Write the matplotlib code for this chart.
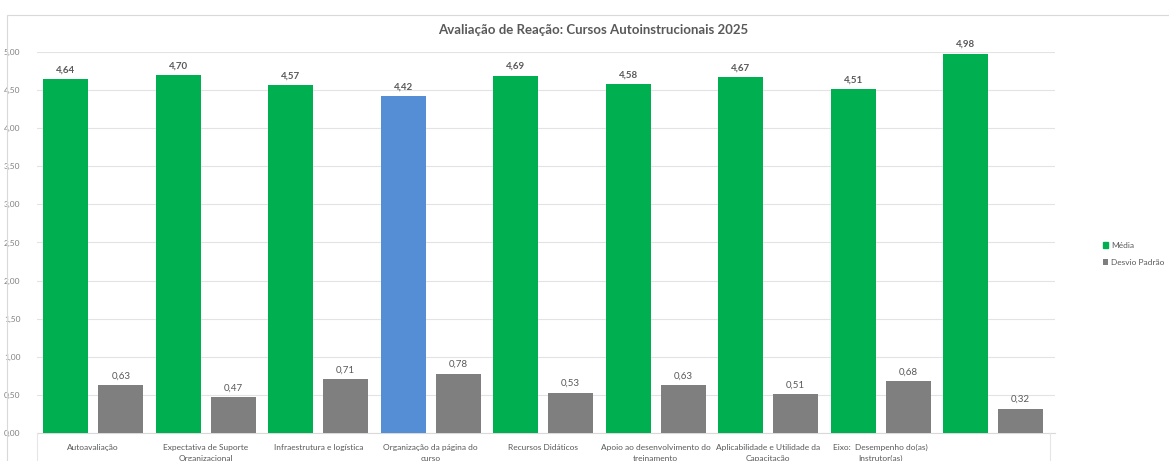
import numpy as np
import matplotlib
matplotlib.use("Agg")
import matplotlib.pyplot as plt
from matplotlib.patches import Rectangle

plt.rcParams['font.family'] = ['Lato', 'DejaVu Sans']

# dados
categorias = ["Autoavaliação", "Expectativa de Suporte\nOrganizacional",
              "Infraestrutura e logística", "Organização da página do\ncurso",
              "Recursos Didáticos", "Apoio ao desenvolvimento do\ntreinamento",
              "Aplicabilidade e Utilidade da\nCapacitação",
              "Eixo:  Desempenho do(as)\nInstrutor(as)", ""]
media = [4.64, 4.70, 4.57, 4.42, 4.69, 4.58, 4.67, 4.51, 4.98]
desvio = [0.63, 0.47, 0.71, 0.78, 0.53, 0.63, 0.51, 0.68, 0.32]
destaque = 3  # barra azul

verde = "#00B050"
cinza = "#7F7F7F"
azul = "#558ED5"
texto = "#595959"

fig = plt.figure(figsize=(11.69, 4.61), dpi=100)
ax = fig.add_axes([37/1169, 28/461, (1055-37)/1169, (433-52)/461])

x = np.arange(len(media))
w = 0.4
cores = [azul if i == destaque else verde for i in range(len(media))]
b1 = ax.bar(x - 0.245, media, w, color=cores, label="Média", zorder=3)
b2 = ax.bar(x + 0.245, desvio, w, color=cinza, label="Desvio Padrão", zorder=3)

fmt = lambda v: f"{v:.2f}".replace(".", ",")
for r, v in zip(b1, media):
    ax.text(r.get_x() + r.get_width()/2, v + 0.06, fmt(v), ha="center", va="bottom",
            fontsize=7, fontweight="bold", color=texto, clip_on=False)
for r, v in zip(b2, desvio):
    ax.text(r.get_x() + r.get_width()/2, v + 0.06, fmt(v), ha="center", va="bottom",
            fontsize=7, color=texto, clip_on=False)

ax.set_xlim(-0.5, 8.55)
ax.set_ylim(0, 5.0)
ticks = np.arange(0, 5.01, 0.5)
ax.set_yticks(ticks)
ax.set_yticklabels([fmt(v) for v in ticks], fontsize=6, color="#808080")
ax.set_xticks(x)
ax.set_xticklabels(categorias, fontsize=6, color=texto, linespacing=1.6)
ax.tick_params(axis="x", length=0, pad=8)
ax.tick_params(axis="y", length=0, pad=12)
ax.grid(axis="y", color="#E3E3E3", lw=0.8, zorder=0)
for s in ["top", "right", "left"]:
    ax.spines[s].set_visible(False)
ax.spines["bottom"].set_color("#D9D9D9")

# linhas verticais do eixo de categorias
for xp in [37, 1050]:
    fig.add_artist(plt.Line2D([xp/1169, xp/1169], [0, 28/461], color="#E6E6E6", lw=0.8))

fig.text(593/1169, 1 - 30/461, "Avaliação de Reação: Cursos Autoinstrucionais 2025",
         ha="center", va="center", fontsize=9.5, fontweight="bold", color=texto)

fig.legend(handles=[b1[0], b2[0]], labels=["Média", "Desvio Padrão"],
           loc="center left", bbox_to_anchor=(1095/1169, 1 - 254/461), frameon=False,
           fontsize=6, handlelength=0.6, handleheight=0.6, handletextpad=0.4,
           labelcolor=texto, labelspacing=1.2)
leg = fig.legends[0]
leg.legend_handles[0].set_color(verde)

fig.add_artist(Rectangle((7/1169, -0.01), 1.0, 1 - 15/461 + 0.01, transform=fig.transFigure,
                         fill=False, edgecolor="#D9D9D9", lw=0.8))

fig.savefig("out.png", dpi=100)
